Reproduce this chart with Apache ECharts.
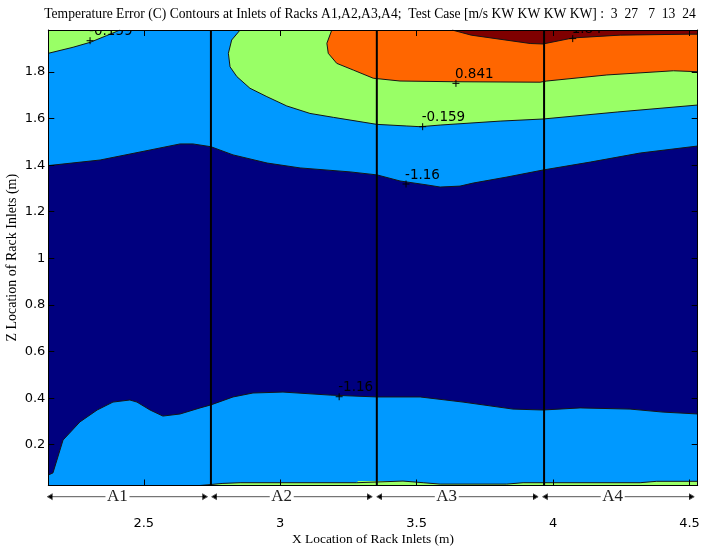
<!DOCTYPE html>
<html><head><meta charset="utf-8">
<script src="https://cdn.jsdelivr.net/npm/echarts@6/dist/echarts.min.js"></script>
<style>html,body{margin:0;padding:0;background:#fff}#c{width:708px;height:547px}</style>
</head><body><div id="c"></div>
<script>
// ---------- text ----------
const chartTitle = 'Temperature Error (C) Contours at Inlets of Racks A1,A2,A3,A4;  Test Case [m/s KW KW KW KW] :  3  27   7  13  24';
const xName = 'X Location of Rack Inlets (m)';
const yName = 'Z Location of Rack Inlets (m)';

// ---------- axes ----------
const xRange = [2.15, 4.53];
const yRange = [0.025, 1.98];
const xTicks = [2.5, 3, 3.5, 4, 4.5];
const yTicks = [0.2, 0.4, 0.6, 0.8, 1, 1.2, 1.4, 1.6, 1.8];

// ---------- racks ----------
const rackNames = ['A1', 'A2', 'A3', 'A4'];
const rackStart = [2.147, 2.749, 3.354, 3.962];
const rackEnd = [2.733, 3.337, 3.945, 4.517];
const rackEdges = [2.746, 3.354, 3.967];

// ---------- contour boundaries (x, z) ----------
// level -1.16 : upper edge of the dark band
const navyTop = [[2.15,1.398],[2.34,1.422],[2.523,1.465],[2.633,1.491],[2.68,1.491],[2.746,1.479],[2.827,1.444],[2.952,1.409],[3.073,1.388],[3.256,1.371],[3.355,1.358],[3.439,1.332],[3.538,1.315],[3.586,1.306],[3.659,1.31],[3.707,1.323],[3.831,1.349],[3.963,1.379],[4.136,1.413],[4.319,1.452],[4.53,1.482]];
// level -1.16 : lower edge of the dark band
const navyBottom = [[2.15,0.07],[2.167,0.079],[2.204,0.22],[2.266,0.298],[2.329,0.349],[2.387,0.383],[2.449,0.392],[2.475,0.383],[2.523,0.349],[2.57,0.323],[2.633,0.332],[2.706,0.358],[2.746,0.371],[2.827,0.405],[2.9,0.422],[3.01,0.426],[3.183,0.413],[3.355,0.405],[3.513,0.405],[3.67,0.383],[3.853,0.353],[3.963,0.349],[4.099,0.358],[4.282,0.353],[4.403,0.34],[4.53,0.332]];
// level -0.159 : upper right region
const greenTop = [[2.853,1.98],[2.822,1.937],[2.81,1.88],[2.816,1.822],[2.841,1.78],[2.889,1.73],[2.951,1.694],[3.024,1.654],[3.109,1.622],[3.195,1.605],[3.354,1.575],[3.464,1.568],[3.513,1.565],[3.586,1.572],[3.806,1.589],[3.963,1.598],[4.235,1.628],[4.53,1.658]];
// level -0.159 : top-left corner
const greenCorner = [[2.15,1.88],[2.241,1.906],[2.303,1.927],[2.364,1.956],[2.401,1.974],[2.413,1.98]];
// level -0.159 : thin strip at floor
const greenBottom = [[2.706,0.025],[2.79,0.034],[2.853,0.037],[3.28,0.037],[3.285,0.044],[3.45,0.044],[3.524,0.037],[3.586,0.031],[3.83,0.031],[3.89,0.037],[4.319,0.037],[4.38,0.043],[4.53,0.043]];
// level 0.841
const orangeEdge = [[3.189,1.98],[3.171,1.923],[3.176,1.88],[3.207,1.837],[3.268,1.808],[3.341,1.773],[3.439,1.761],[3.635,1.758],[3.952,1.756],[3.977,1.761],[4.197,1.787],[4.441,1.805],[4.53,1.801]];
// level 1.84
const redEdge = [[3.63,1.98],[3.7,1.958],[3.916,1.922],[3.963,1.92],[4.073,1.946],[4.246,1.958],[4.491,1.962],[4.53,1.962]];

// ---------- contour labels ----------
const labelText = ['-0.159', '1.84', '0.841', '-0.159', '-1.16', '-1.16'];
const labelX = [2.303, 4.072, 3.644, 3.522, 3.461, 3.216];
const labelY = [1.934, 1.943, 1.751, 1.565, 1.319, 0.406];

// ---------- colours ----------
const cNavy = '#00007F', cBlue = '#0099FF', cGreen = '#99FF66', cOrange = '#FF6600', cRed = '#7F0000';

const ctx = document.createElement('canvas').getContext('2d');
function fitSize(text, family, base, target) {
  ctx.font = base + 'px ' + family;
  return base * target / ctx.measureText(text).width;
}
const serif = '"Liberation Serif", "Times New Roman", serif';
const titleSize = fitSize(chartTitle, serif, 13, 652);
const xNameSize = fitSize(xName, serif, 14, 162);
const yNameSize = fitSize(yName, serif, 14, 168);

function fillSeries(pts, color, z) {
  return {
    type: 'custom', coordinateSystem: 'cartesian2d', z: z, silent: true, animation: false,
    data: pts,
    renderItem: function (params, api) {
      if (params.dataIndex !== 0) return null;
      return { type: 'polygon', shape: { points: pts.map(p => api.coord(p)) }, style: { fill: color } };
    }
  };
}
function lineSeries(pts) {
  return {
    type: 'line', data: pts, symbol: 'none', showSymbol: false, silent: true, animation: false, z: 7,
    lineStyle: { color: '#151515', width: 1 }
  };
}

const series = [
  fillSeries(navyTop.concat(navyBottom.slice().reverse()), cNavy, 1),
  fillSeries(greenBottom.concat([[xRange[1], yRange[0]]]), cGreen, 2),
  fillSeries(greenTop.concat([[xRange[1], yRange[1]]]), cGreen, 3),
  fillSeries(greenCorner.concat([[xRange[0], yRange[1]]]), cGreen, 3),
  fillSeries(orangeEdge.concat([[xRange[1], yRange[1]]]), cOrange, 4),
  fillSeries(redEdge.concat([[xRange[1], yRange[1]]]), cRed, 5),
  lineSeries(navyTop), lineSeries(navyBottom), lineSeries(greenTop), lineSeries(greenCorner),
  lineSeries(greenBottom), lineSeries(orangeEdge), lineSeries(redEdge),
  { // rack separators
    type: 'custom', coordinateSystem: 'cartesian2d', z: 8, silent: true, animation: false,
    data: rackEdges.map(x => [x, yRange[0]]),
    renderItem: function (params, api) {
      const x = rackEdges[params.dataIndex];
      const a = api.coord([x, yRange[0]]), b = api.coord([x, yRange[1]]);
      return { type: 'line', shape: { x1: a[0], y1: a[1], x2: b[0], y2: b[1] }, style: { stroke: '#000', lineWidth: 2 } };
    }
  },
  { // contour labels
    type: 'custom', coordinateSystem: 'cartesian2d', z: 9, silent: true, animation: false, clip: true,
    data: labelX.map((x, i) => [x, labelY[i]]),
    renderItem: function (params, api) {
      const i = params.dataIndex;
      const p = api.coord([labelX[i], labelY[i]]);
      return {
        type: 'group', children: [
          { type: 'line', shape: { x1: p[0] - 3.5, y1: p[1], x2: p[0] + 3.5, y2: p[1] }, style: { stroke: '#000', lineWidth: 1 } },
          { type: 'line', shape: { x1: p[0], y1: p[1] - 3.5, x2: p[0], y2: p[1] + 3.5 }, style: { stroke: '#000', lineWidth: 1 } },
          { type: 'text', x: p[0] - 1, y: p[1] - 9, style: { text: labelText[i], fill: '#000', font: '13.5px "DejaVu Sans"', align: 'left', verticalAlign: 'middle' } }
        ]
      };
    }
  },
  { // rack labels with arrows
    type: 'custom', coordinateSystem: 'cartesian2d', z: 9, silent: true, animation: false, clip: false,
    data: rackStart.map((s, i) => [s, yRange[0]]),
    renderItem: function (params, api) {
      const i = params.dataIndex;
      const a = api.coord([rackStart[i], yRange[0]]);
      const b = api.coord([rackEnd[i], yRange[0]]);
      const y = a[1] + 11.2;
      const tx = a[0] + 59.5;
      const tw = 21.5;
      const st = { stroke: '#555', lineWidth: 1 };
      return {
        type: 'group', children: [
          { type: 'line', shape: { x1: a[0], y1: y, x2: tx - 1.5, y2: y }, style: st },
          { type: 'polyline', shape: { points: [[a[0] + 5, y - 3], [a[0], y], [a[0] + 5, y + 3]] }, style: st },
          { type: 'line', shape: { x1: tx + tw + 1, y1: y, x2: b[0], y2: y }, style: st },
          { type: 'polyline', shape: { points: [[b[0] - 5, y - 3], [b[0], y], [b[0] - 5, y + 3]] }, style: st },
          { type: 'text', x: tx, y: y, style: { text: rackNames[i], fill: '#222', font: '17px ' + serif, align: 'left', verticalAlign: 'middle' } }
        ]
      };
    }
  }
];

const axisCommon = {
  type: 'value', z: 10,
  axisLine: { show: true, onZero: false, lineStyle: { color: '#000', width: 1 } },
  splitLine: { show: false }
};

const option = {
  animation: false,
  backgroundColor: '#fff',
  grid: { left: 48.3, right: 10.3, top: 30, bottom: 61.5, show: true, backgroundColor: cBlue, borderWidth: 0, containLabel: false, outerBoundsMode: 'none' },
  graphic: [{
    type: 'text', x: 370, y: 14.5, z: 20,
    style: { text: chartTitle, fill: '#000', font: titleSize.toFixed(2) + 'px ' + serif, align: 'center', verticalAlign: 'middle' }
  }],
  xAxis: [
    Object.assign({}, axisCommon, {
      position: 'bottom', min: xRange[0], max: xRange[1],
      axisTick: { show: true, inside: true, length: 6, customValues: xTicks, lineStyle: { color: '#000' } },
      axisLabel: { show: true, customValues: xTicks, margin: 32, color: '#000', fontFamily: 'DejaVu Sans', fontSize: 13 },
      name: xName, nameLocation: 'middle', nameGap: 47.5, nameMoveOverlap: false,
      nameTextStyle: { color: '#000', fontFamily: serif, fontSize: xNameSize }
    }),
    Object.assign({}, axisCommon, {
      position: 'top', min: xRange[0], max: xRange[1],
      axisTick: { show: true, inside: true, length: 6, customValues: xTicks, lineStyle: { color: '#000' } },
      axisLabel: { show: false }
    })
  ],
  yAxis: [
    Object.assign({}, axisCommon, {
      position: 'left', min: yRange[0], max: yRange[1],
      axisTick: { show: true, inside: true, length: 6, customValues: yTicks, lineStyle: { color: '#000' } },
      axisLabel: { show: true, customValues: yTicks, margin: 3, color: '#000', fontFamily: 'DejaVu Sans', fontSize: 13 },
      name: yName, nameLocation: 'middle', nameGap: 29, nameMoveOverlap: false,
      nameTextStyle: { color: '#000', fontFamily: serif, fontSize: yNameSize }
    }),
    Object.assign({}, axisCommon, {
      position: 'right', min: yRange[0], max: yRange[1],
      axisTick: { show: true, inside: true, length: 6, customValues: yTicks, lineStyle: { color: '#000' } },
      axisLabel: { show: false }
    })
  ],
  series: series
};

const chart = echarts.init(document.getElementById('c'), null, { renderer: 'canvas' });
chart.setOption(option);
</script>
</body></html>
